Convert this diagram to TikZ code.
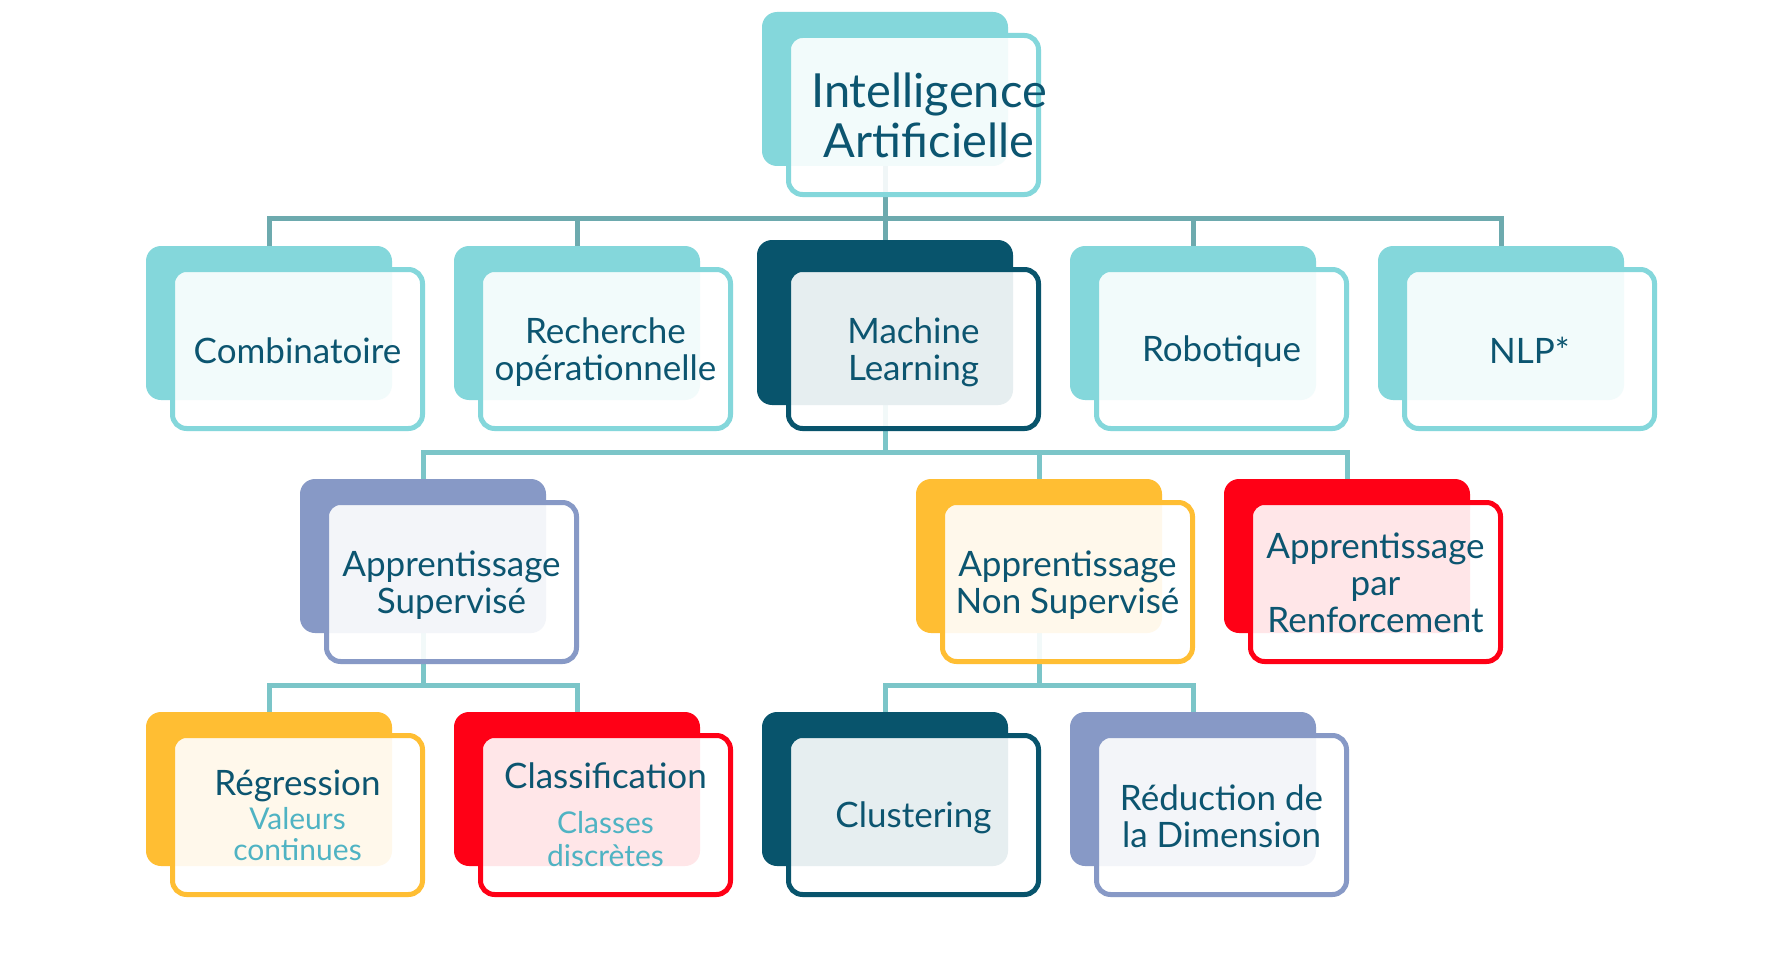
\documentclass[tikz,border=0pt]{standalone}
\usepackage{fontspec}
\setmainfont{Lato}
\definecolor{cteal}{HTML}{84D7DB}
\definecolor{cdark}{HTML}{08546C}
\definecolor{cperi}{HTML}{8799C6}
\definecolor{cyel}{HTML}{FFBE33}
\definecolor{cred}{HTML}{FF0016}
\definecolor{ctext}{HTML}{0C5570}
\definecolor{csub}{HTML}{4FB3C3}
\definecolor{cline}{HTML}{6DAAAE}
\definecolor{cline2}{HTML}{7BC5C8}
\pgfdeclarelayer{bg}
\pgfsetlayers{bg,main}
\newcommand\subf{\color{csub}\fontsize{30}{33}\selectfont}
\newcommand\card[6]{%
  \node[back, fill=#4] (#1-b) at (#2+123, #3+77) {};
  \node[front, draw=#4] (#1) at (#2+151.5, #3+103) {};
  \node[ftxt] (#1-t) at ([yshift=#6]#1.center) {#5};
}
\begin{document}
\begin{tikzpicture}[x=1pt,y=-1pt,
  back/.style={rectangle, rounded corners=15pt, minimum width=246pt, minimum height=154pt, inner sep=0pt, draw=none},
  front/.style={rectangle, rounded corners=14pt, minimum width=250pt, minimum height=159pt, inner sep=0pt, line width=5pt, fill=white, fill opacity=0.9},
  ftxt/.style={text=ctext, align=center, inner sep=0pt, font=\fontsize{35}{37}\selectfont},
  conn/.style={line width=5pt, draw=cline2},
  txt/.style={text=ctext, align=center, inner sep=0pt}
]
\useasboundingbox (0,0) rectangle (1789,955);

% top
\card{ia}{762}{12}{cteal}{}{0pt}
\node[txt, font=\fontsize{47}{50}\selectfont] (ia-t) at (929,115) {Intelligence\\Artificielle};

% row 1
\card{comb}{146}{246}{cteal}{Combinatoire}{-2pt}
\card{rech}{454}{246}{cteal}{Recherche\\opérationnelle}{-3pt}
\node[back, fill=cdark, minimum width=256pt, minimum height=165pt] (ml-b) at (885,322.5) {};
\node[front, draw=cdark] (ml) at (913.5,349) {};
\node[ftxt] (ml-t) at ([yshift=-3pt]ml.center) {Machine\\Learning};
\card{robo}{1070}{246}{cteal}{Robotique}{-3pt}
\card{nlp}{1378}{246}{cteal}{NLP*}{-1pt}

% row 2
\card{sup}{300}{479}{cperi}{Apprentissage\\Supervisé}{-3pt}
\card{nonsup}{916}{479}{cyel}{Apprentissage\\Non Supervisé}{-3pt}
\card{renf}{1224}{479}{cred}{Apprentissage\\par\\Renforcement}{-1pt}

% row 3
\card{reg}{146}{712}{cyel}{Régression\\[-3pt]{\subf Valeurs}\\[-6pt]{\subf continues}}{0pt}
\card{cla}{454}{712}{cred}{Classification\\[8pt]{\subf Classes}\\[-4pt]{\subf discrètes}}{0pt}
\card{clu}{762}{712}{cdark}{Clustering}{-3pt}
\card{red}{1070}{712}{cperi}{Réduction de\\la Dimension}{-1pt}

\begin{pgfonlayer}{bg}
  \fill[white] (0,0) rectangle (1789,955);
  \coordinate (j0) at (ia-b.south |- 0,218);
  \draw[conn, draw=cline] (ia-b.south) -- (j0);
  \draw[conn, draw=cline] (comb-b.north) |- (nlp-b.north |- j0) -- (nlp-b.north);
  \draw[conn, draw=cline] (rech-b.north) -- (rech-b.north |- j0);
  \draw[conn, draw=cline] (ml-b.north) -- (ml-b.north |- j0);
  \draw[conn, draw=cline] (robo-b.north) -- (robo-b.north |- j0);

  \coordinate (j1) at (ml-b.south |- 0,452);
  \draw[conn] (ml-b.south) -- (j1);
  \draw[conn] (sup-b.north) |- (renf-b.north |- j1) -- (renf-b.north);
  \draw[conn] (nonsup-b.north) -- (nonsup-b.north |- j1);

  \coordinate (j2) at (sup-b.south |- 0,685);
  \draw[conn] (sup-b.south) -- (j2);
  \draw[conn] (reg-b.north) |- (cla-b.north |- j2) -- (cla-b.north);
  \coordinate (j3) at (nonsup-b.south |- 0,685);
  \draw[conn] (nonsup-b.south) -- (j3);
  \draw[conn] (clu-b.north) |- (red-b.north |- j3) -- (red-b.north);
\end{pgfonlayer}
\end{tikzpicture}
\end{document}
